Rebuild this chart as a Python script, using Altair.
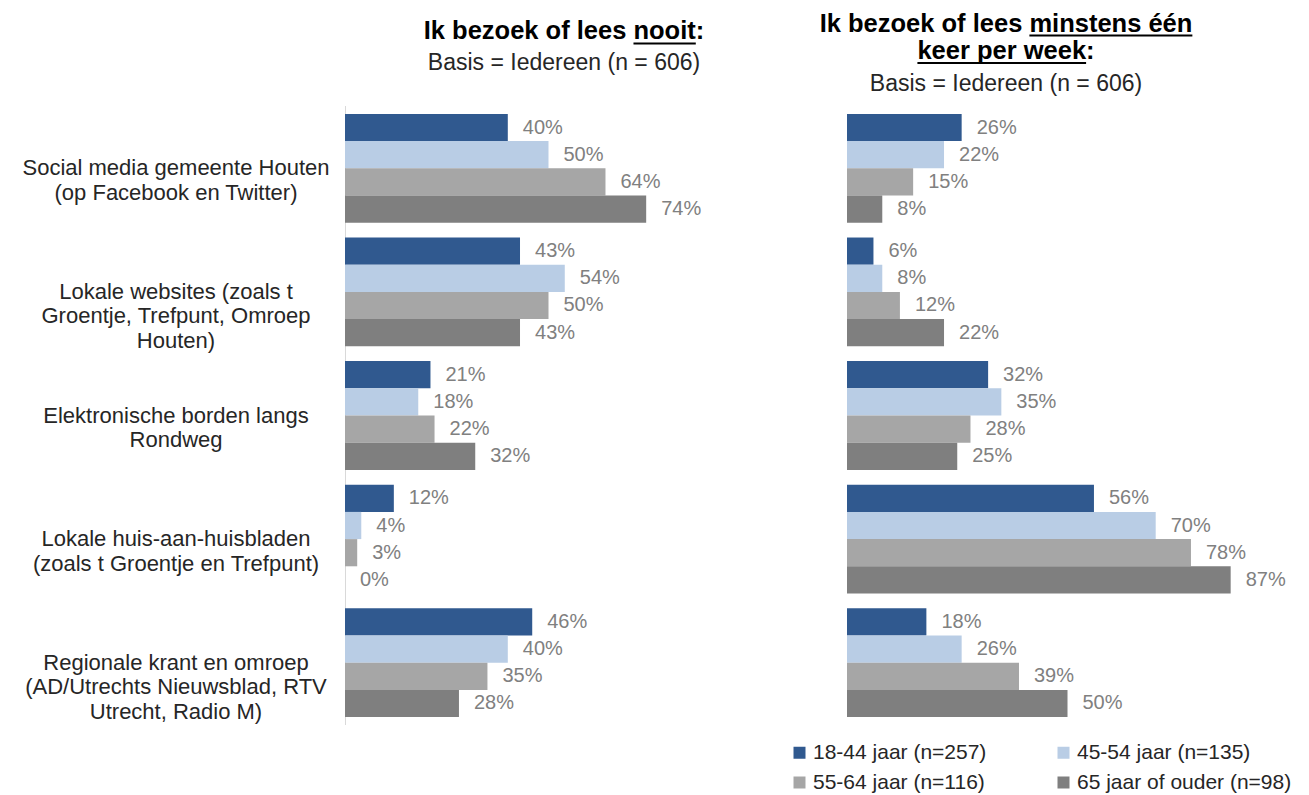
import altair as alt
import pandas as pd

# ---------------- data ----------------
categories = [
    "Social media gemeente Houten\n(op Facebook en Twitter)",
    "Lokale websites (zoals t\nGroentje, Trefpunt, Omroep\nHouten)",
    "Elektronische borden langs\nRondweg",
    "Lokale huis-aan-huisbladen\n(zoals t Groentje en Trefpunt)",
    "Regionale krant en omroep\n(AD/Utrechts Nieuwsblad, RTV\nUtrecht, Radio M)",
]
ages = ["18-44 jaar (n=257)", "45-54 jaar (n=135)", "55-64 jaar (n=116)", "65 jaar of ouder (n=98)"]

nooit_18_44 = [40, 43, 21, 12, 46]
nooit_45_54 = [50, 54, 18, 4, 40]
nooit_55_64 = [64, 50, 22, 3, 35]
nooit_65 = [74, 43, 32, 0, 28]

week_18_44 = [26, 6, 32, 56, 18]
week_45_54 = [22, 8, 35, 70, 26]
week_55_64 = [15, 12, 28, 78, 39]
week_65 = [8, 22, 25, 87, 50]

colors = ["#30598f", "#b9cde5", "#a6a6a6", "#7f7f7f"]

nooit = [nooit_18_44, nooit_45_54, nooit_55_64, nooit_65]
week = [week_18_44, week_45_54, week_55_64, week_65]

rows = []
for ai, age in enumerate(ages):
    for ci, cat in enumerate(categories):
        rows.append({
            "cat": cat, "age": age,
            "nooit": nooit[ai][ci], "week": week[ai][ci],
            "nooit_lbl": f"{nooit[ai][ci]}%", "week_lbl": f"{week[ai][ci]}%",
        })
df = pd.DataFrame(rows)
df_cat = pd.DataFrame({"cat": categories})
one = pd.DataFrame({"k": [0]})

FONT = "Liberation Sans"

# ---------------- scales ----------------
yscale = alt.Scale(domain=categories, range=[106.5, 724.5], paddingInner=0.12, paddingOuter=0.06)
yoff = alt.YOffset("age:N", scale=alt.Scale(domain=ages, paddingInner=0, paddingOuter=0))
xl = alt.Scale(domain=[0, 100], range=[345, 752])
xr = alt.Scale(domain=[0, 100], range=[847, 1288])
cscale = alt.Scale(domain=ages, range=colors)

legend = alt.Legend(
    title=None, orient="none", legendX=789, legendY=742, columns=2, direction="horizontal",
    symbolType="square", symbolSize=144, symbolStrokeWidth=0,
    labelFont=FONT, labelFontSize=21, labelColor="#262626", labelOffset=3, labelLimit=400,
    columnPadding=66, rowPadding=8, padding=0,
)

Y = alt.Y("cat:N", scale=yscale, axis=None)

bars_l = alt.Chart(df).mark_bar().encode(
    y=Y, yOffset=yoff,
    x=alt.X("nooit:Q", scale=xl, axis=None),
    color=alt.Color("age:N", scale=cscale, legend=legend),
)
lbl_l = alt.Chart(df).mark_text(align="left", baseline="middle", dx=15, font=FONT,
                                 fontSize=20, color="#808080").encode(
    y=Y, yOffset=yoff,
    x=alt.X("nooit:Q", scale=xl, axis=None),
    text="nooit_lbl:N",
)
bars_r = alt.Chart(df).mark_bar().encode(
    y=Y, yOffset=yoff,
    x=alt.X("week:Q", scale=xr, axis=None),
    color=alt.Color("age:N", scale=cscale, legend=legend),
)
lbl_r = alt.Chart(df).mark_text(align="left", baseline="middle", dx=15, font=FONT,
                                 fontSize=20, color="#808080").encode(
    y=Y, yOffset=yoff,
    x=alt.X("week:Q", scale=xr, axis=None),
    text="week_lbl:N",
)
cat_lbl = alt.Chart(df_cat).mark_text(align="center", baseline="middle", lineBreak="\n",
                                      font=FONT, fontSize=22, lineHeight=24.5,
                                      color="#262626").encode(
    y=Y, x=alt.value(176), text="cat:N",
)
axis_line = alt.Chart(one).mark_rule(color="#d9d9d9", strokeWidth=1).encode(
    x=alt.value(345.5), y=alt.value(106), y2=alt.value(725),
)

# ---------------- titles ----------------
BW = {' ': 278, 'I': 278, 'k': 556, 'b': 611, 'e': 556, 'z': 500, 'o': 611, 'f': 333,
      'l': 278, 's': 556, 'n': 611, 'i': 278, 't': 333, ':': 333, 'm': 889, 'é': 556,
      'r': 389, 'p': 611, 'w': 778}
TFS = 25.5


def bw(s):
    return sum(BW[c] for c in s) * TFS / 1000.0


def title_text(txt, cx, y, bold=True, size=TFS):
    return alt.Chart(one).mark_text(
        text=txt, align="center", baseline="alphabetic", font=FONT, fontSize=size,
        fontWeight="bold" if bold else "normal", color="#000000" if bold else "#262626",
    ).encode(x=alt.value(cx), y=alt.value(y))


def underline(x1, x2, y):
    return alt.Chart(one).mark_rule(color="#000000", strokeWidth=2).encode(
        x=alt.value(x1), x2=alt.value(x2), y=alt.value(y))


t_l = "Ik bezoek of lees nooit:"
cxl = 564
x0 = cxl - bw(t_l) / 2
ul_l = underline(x0 + bw("Ik bezoek of lees "), x0 + bw("Ik bezoek of lees nooit"), 43.5)

t_r1 = "Ik bezoek of lees minstens één"
t_r2 = "keer per week:"
cxr = 1006
x1 = cxr - bw(t_r1) / 2
ul_r1 = underline(x1 + bw("Ik bezoek of lees "), x1 + bw(t_r1), 35.5)
x2 = cxr - bw(t_r2) / 2
ul_r2 = underline(x2, x2 + bw("keer per week"), 63)

titles = [
    title_text(t_l, cxl, 39), ul_l,
    title_text("Basis = Iedereen (n = 606)", cxl, 70, bold=False, size=23),
    title_text(t_r1, cxr, 31.5), ul_r1,
    title_text(t_r2, cxr, 59), ul_r2,
    title_text("Basis = Iedereen (n = 606)", cxr, 91, bold=False, size=23),
]

chart = alt.layer(
    axis_line, bars_l, lbl_l, bars_r, lbl_r, cat_lbl, *titles
).resolve_scale(x="independent").properties(
    width=1309, height=795, padding=0,
    autosize=alt.AutoSizeParams(type="none"),
    background="white",
).configure_view(stroke=None)

chart.save("out.html", embed_options={"renderer": "svg", "actions": False})
